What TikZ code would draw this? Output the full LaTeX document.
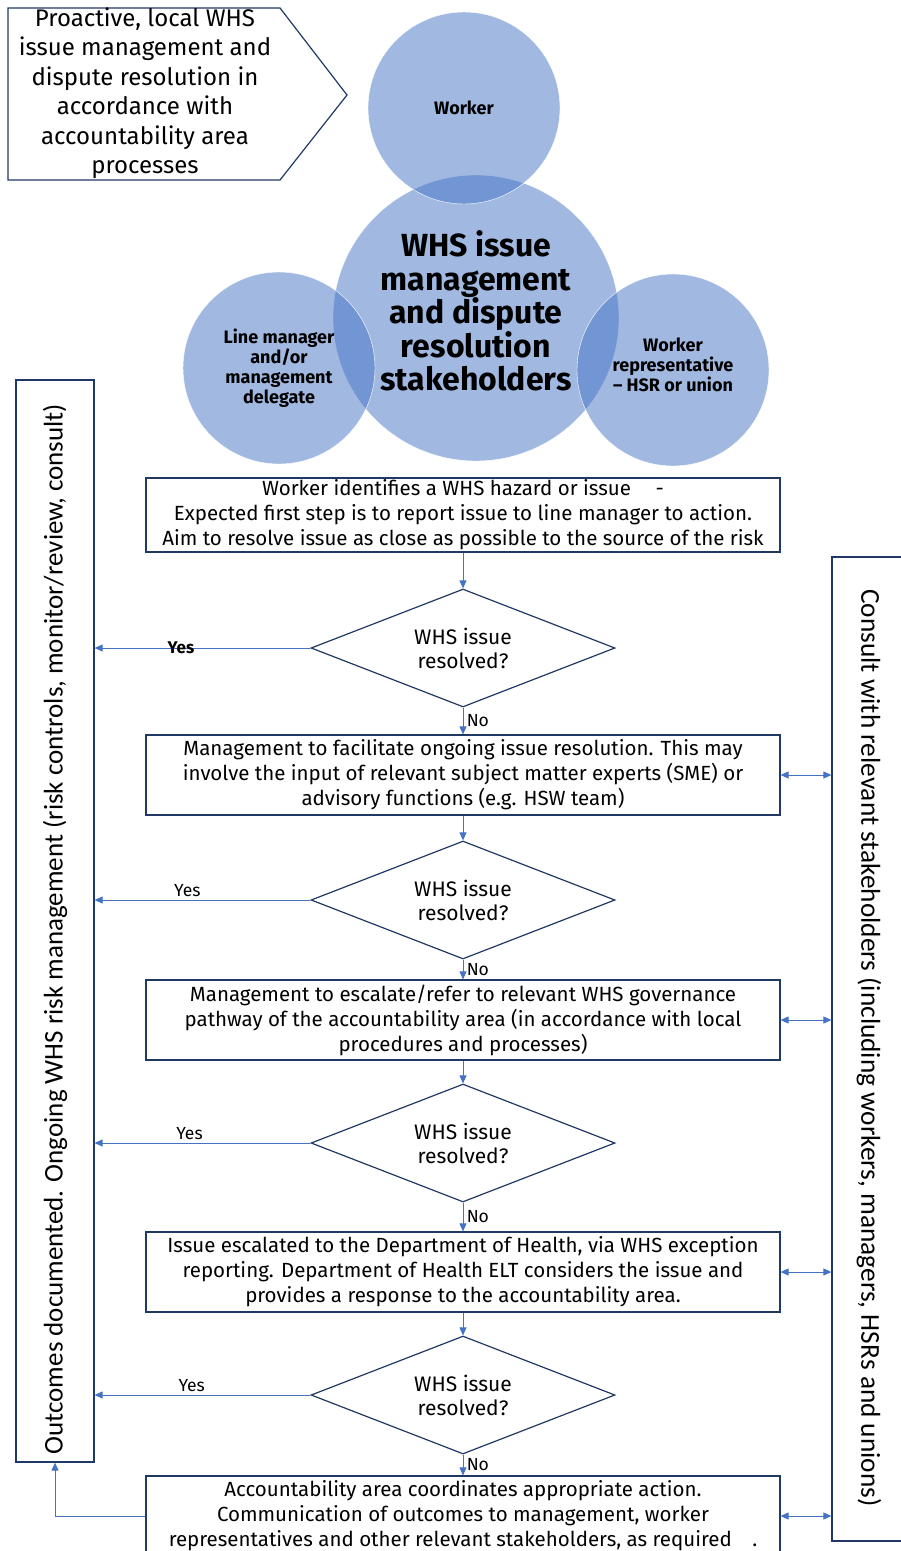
\documentclass[tikz,border=0pt]{standalone}
\usepackage{fontspec}
\setmainfont{Fira Sans}
\newfontfamily\sidefont{Carlito}
\usetikzlibrary{arrows.meta, shapes.geometric}
\definecolor{navy}{HTML}{203864}
\definecolor{flowblue}{HTML}{4472C4}

\begin{document}
\begin{tikzpicture}[x=1pt, y=-1pt,
		stepbox/.style={rectangle, draw=navy, line width=1.2pt, minimum width=634pt, inner sep=0pt, align=center, font=\fontsize{20.5}{25}\selectfont},
		query/.style={diamond, draw=navy, line width=1.2pt, minimum width=304pt, minimum height=118pt, aspect=2.6, inner sep=0pt, align=center, font=\fontsize{21}{24}\selectfont},
		sidebox/.style={rectangle, draw=navy, line width=1.2pt},
		party/.style={circle, minimum size=192pt, fill=flowblue, fill opacity=0.5, draw=white, draw opacity=1, text opacity=1, align=center, font=\bfseries\fontsize{18}{20}\selectfont},
		flow/.style={draw=flowblue, line width=0.9pt, >={Triangle[length=8pt, width=7pt]}, ->},
		tag/.style={font=\fontsize{17.5}{20}\selectfont}
		]
		\useasboundingbox (0,0) rectangle (901,1551);

		\draw[navy, line width=1.2pt] (8,8) -- (280,8) -- (347,95) -- (280,180) -- (8,180) -- cycle;
		\node[align=center, font=\fontsize{24}{29.5}\selectfont](P) at (145,93){Proactive, local WHS\\issue management and\\dispute resolution in\\accordance with\\accountability area\\processes};

		\node[party, minimum size=286pt](C0) at (476,318){};
		\node[party](C1) at (464,108){Worker};
		\node[party](C2) at (279,368){Line manager\\and/or\\management\\delegate};
		\node[party](C3) at (673,370){};
		\node[align=center, font=\bfseries\fontsize{32}{33.5}\selectfont](C0T) at (476,311){WHS issue\\management\\and dispute\\resolution\\stakeholders};
		\node[align=center, font=\bfseries\fontsize{18}{20}\selectfont](C3T) at (673,365){Worker\\representative\\-- HSR or union};

		\node[sidebox, minimum width=78pt, minimum height=1082pt](OUT) at (55,921){};
		\node[rotate=90, font=\sidefont\fontsize{27}{30}\selectfont] at (55,929){Outcomes documented. Ongoing WHS risk management (risk controls, monitor/review, consult)};
		\node[sidebox, minimum width=70pt, minimum height=984pt](CON) at (867,1049){};
		\node[rotate=-90, font=\sidefont\fontsize{27.3}{30}\selectfont] at (869,1048){Consult with relevant stakeholders (including workers, managers, HSRs and unions)};

		\node[stepbox, minimum height=74pt](B1) at (463,515){Worker identifies a WHS hazard or issue\hspace{1.2em}-\\Expected first step is to report issue to line manager to action.\\Aim to resolve issue as close as possible to the source of the risk};
		\node[query](D1) at (463,648){WHS issue\\resolved?};
		\node[stepbox, minimum height=80pt](B2) at (463,775){Management to facilitate ongoing issue resolution. This may\\involve the input of relevant subject matter experts (SME) or\\advisory functions (e.g. HSW team)};
		\node[query](D2) at (463,900){WHS issue\\resolved?};
		\node[stepbox, minimum height=80pt](B3) at (463,1020){Management to escalate/refer to relevant WHS governance\\pathway of the accountability area (in accordance with local\\procedures and processes)};
		\node[query](D3) at (463,1143){WHS issue\\resolved?};
		\node[stepbox, minimum height=80pt](B4) at (463,1272){Issue escalated to the Department of Health, via WHS exception\\reporting. Department of Health ELT considers the issue and\\provides a response to the accountability area.};
		\node[query](D4) at (463,1395){WHS issue\\resolved?};
		\node[stepbox, minimum height=80pt](B5) at (463,1516){Accountability area coordinates appropriate action.\\Communication of outcomes to management, worker\\representatives and other relevant stakeholders, as required\hspace{1em}.};

		\draw[flow] (B1) -- (D1);
		\draw[flow] (D1) -- (B2) node[midway, right, tag]{No};
		\draw[flow] (B2) -- (D2);
		\draw[flow] (D2) -- (B3) node[midway, right, tag]{No};
		\draw[flow] (B3) -- (D3);
		\draw[flow] (D3) -- (B4) node[midway, right, tag]{No};
		\draw[flow] (B4) -- (D4);
		\draw[flow] (D4) -- (B5) node[midway, right, tag]{No};

		\draw[flow] (D1.west) -- (D1.west -| OUT.east) node[pos=0.6, tag, font=\bfseries\fontsize{17}{20}\selectfont]{Yes};
		\draw[flow] (D2.west) -- (D2.west -| OUT.east) node[pos=0.57, above, tag]{Yes};
		\draw[flow] (D3.west) -- (D3.west -| OUT.east) node[pos=0.56, above, tag]{Yes};
		\draw[flow] (D4.west) -- (D4.west -| OUT.east) node[pos=0.55, above, tag]{Yes};

		\draw[flow, <->] (B2.east) -- (B2.east -| CON.west);
		\draw[flow, <->] (B3.east) -- (B3.east -| CON.west);
		\draw[flow, <->] (B4.east) -- (B4.east -| CON.west);
		\draw[flow, <->] (B5.east) -- (B5.east -| CON.west);
		\draw[flow] (B5.west) -| (OUT.south);
	\end{tikzpicture}
\end{document}
